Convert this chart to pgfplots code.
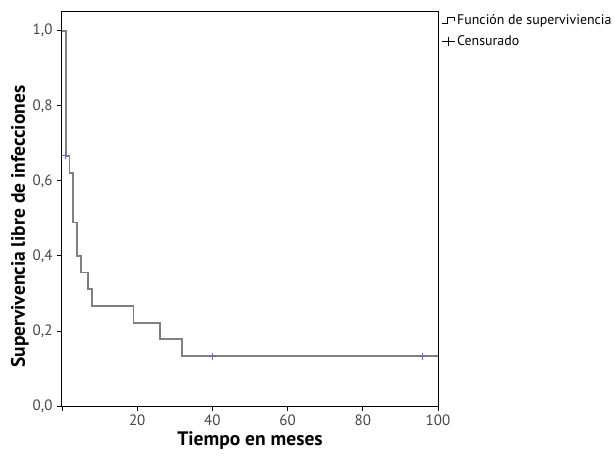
\documentclass[border=0pt]{standalone}
\usepackage{pgfplots}
\pgfplotsset{compat=1.18}
\usepackage{fontspec}
\setmainfont{PT Sans}
\definecolor{curve}{RGB}{128,128,128}
\definecolor{cens}{RGB}{90,110,210}
\definecolor{ticktxt}{RGB}{70,70,70}
\begin{document}
\begin{tikzpicture}[x=1pt,y=1pt]
\begin{axis}[
  scale only axis,
  width=376pt, height=394pt,
  at={(0,0)}, anchor=south west,
  xmin=0, xmax=100, ymin=0, ymax=1.05,
  xtick={0,20,40,60,80,100},
  xticklabels={,20,40,60,80,100},
  ytick={0,0.2,0.4,0.6,0.8,1.0},
  yticklabels={{0,0},{0,2},{0,4},{0,6},{0,8},{1,0}},
  tick align=outside,
  major tick length=5pt,
  xtick pos=bottom, ytick pos=left,
  tick style={black, line width=0.9pt},
  axis line style={black, line width=1pt},
  ticklabel style={font=\fontsize{15}{17}\selectfont, text=ticktxt},
  yticklabel style={xshift=-1pt},
  /pgf/number format/assume math mode=true,
  xlabel={\bfseries Tiempo en meses},
  ylabel={\bfseries Supervivencia libre de infecciones},
  label style={font=\fontsize{19.5}{22}\selectfont},
  xlabel style={yshift=1pt},
  ylabel style={at={(ticklabel cs:0.455)}, yshift=-3pt},
  legend style={at={(1.008,1.0)}, anchor=north west, draw=none, fill=none,
    font=\fontsize{13.9}{16}\selectfont, row sep=6pt, inner sep=0pt,
    cells={anchor=west}},
  legend cell align=left,
  clip=false,
]
\addlegendimage{legend image code/.code={
  \draw[black, line width=1pt] (0pt,-3.5pt) -- (6pt,-3.5pt) -- (6pt,2.5pt) -- (13pt,2.5pt) -- (13pt,-1pt);}}
\addlegendentry{Función de superviviencia}
\addlegendimage{legend image code/.code={
  \draw[black, line width=1pt] (0pt,0pt) -- (13pt,0pt) (6.5pt,-4.5pt) -- (6.5pt,4.5pt);}}
\addlegendentry{Censurado}
\addplot[const plot, curve, line width=1.8pt, forget plot] coordinates {
  (0,1.0) (1,0.667) (2,0.622) (3,0.489) (4,0.400) (5,0.356)
  (7,0.311) (8,0.267) (19,0.222) (26,0.178) (32,0.133) (100,0.133)
};
\addplot[only marks, mark=+, mark size=3.5pt, cens, line width=1pt, forget plot] coordinates {
  (1,0.667) (40,0.133) (96,0.133)
};
\end{axis}
\pgfresetboundingbox
\path[use as bounding box] (-62,-49) rectangle (553,406);
\end{tikzpicture}
\end{document}
